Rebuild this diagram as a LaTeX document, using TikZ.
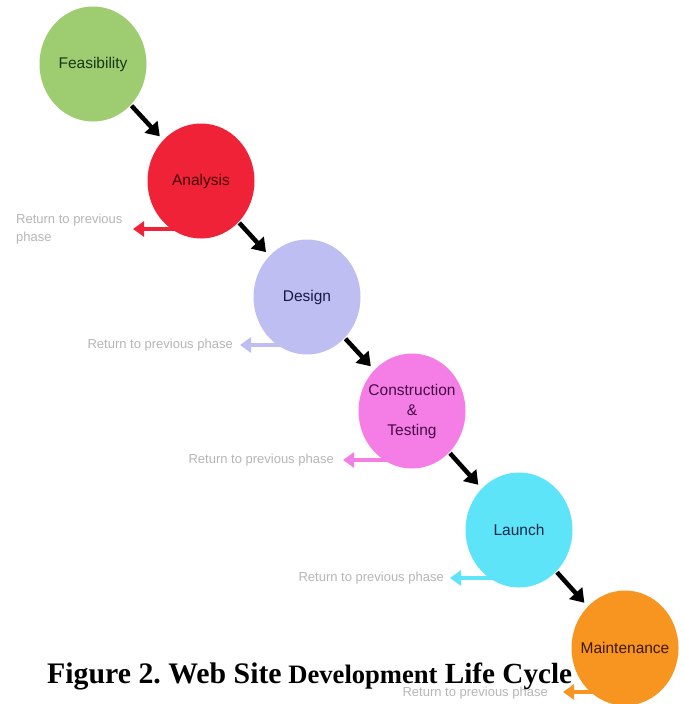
\documentclass[tikz,border=0pt]{standalone}
\usepackage{fontspec}
\setmainfont{Liberation Sans}
\newfontfamily\capfont{Liberation Serif}
\usetikzlibrary{shapes.geometric,arrows.meta}
\definecolor{cFeas}{RGB}{158,204,112}
\definecolor{cAnal}{RGB}{240,34,56}
\definecolor{cDes}{RGB}{190,190,242}
\definecolor{cCon}{RGB}{245,126,230}
\definecolor{cLau}{RGB}{94,228,248}
\definecolor{cMai}{RGB}{248,148,32}
\definecolor{tFeas}{RGB}{25,55,20}
\definecolor{tAnal}{RGB}{70,0,5}
\definecolor{tDes}{RGB}{25,25,70}
\definecolor{tCon}{RGB}{70,10,70}
\definecolor{tLau}{RGB}{10,40,70}
\definecolor{tMai}{RGB}{60,25,0}
\definecolor{retgray}{RGB}{182,182,182}
\tikzset{
  phase/.style={ellipse, inner xsep=-18pt, inner ysep=-12pt, minimum width=107pt, minimum height=115pt,
    font=\fontsize{15.5}{20}\selectfont, align=center},
  fwd/.style={draw=black, line width=4.5pt, -{Triangle[width=17pt,length=13pt]},
    shorten <=1pt, shorten >=5pt},
  back/.style={line width=4pt, -{Triangle[width=15pt,length=11pt]}},
  rettext/.style={text=retgray, font=\fontsize{13}{18}\selectfont, inner sep=0pt}
}
\begin{document}
\begin{tikzpicture}[x=1pt,y=-1pt]
\fill[white] (0,0) rectangle (684,704);
\useasboundingbox (0,0) rectangle (684,704);
\clip (0,0) rectangle (684,704);
% return arrow end points (drawn first, so the circles cover their start)
\coordinate (rA0) at (185,229); \coordinate (rA1) at (133,229);
\coordinate (rD0) at (290,345); \coordinate (rD1) at (240,345);
\coordinate (rC0) at (395,460); \coordinate (rC1) at (343,460);
\coordinate (rL0) at (502,578); \coordinate (rL1) at (450,578);
\coordinate (rM0) at (610,692); \coordinate (rM1) at (563,692);
\draw[back, draw=cAnal, fill=cAnal] (rA0) -- (rA1);
\draw[back, draw=cDes, fill=cDes] (rD0) -- (rD1);
\draw[back, draw=cCon, fill=cCon] (rC0) -- (rC1);
\draw[back, draw=cLau, fill=cLau] (rL0) -- (rL1);
\draw[back, draw=cMai, fill=cMai] (rM0) -- (rM1);
% phases
\node[phase, fill=cFeas, text=tFeas] (feas) at (93,64) {Feasibility};
\node[phase, fill=cAnal, text=tAnal] (anal) at (201,181) {Analysis};
\node[phase, fill=cDes, text=tDes] (des) at (307,297) {Design};
\node[phase, fill=cCon, text=tCon] (con) at (412,411) {Construction\\\&\\Testing};
\node[phase, fill=cLau, text=tLau] (lau) at (519,530) {Launch};
\node[phase, fill=cMai, text=tMai] (mai) at (625,648) {Maintenance};
% forward arrows
\draw[fwd] (feas) -- (anal);
\draw[fwd] (anal) -- (des);
\draw[fwd] (des) -- (con);
\draw[fwd] (con) -- (lau);
\draw[fwd] (lau) -- (mai);
% return texts
\node[rettext, anchor=west, align=left] (tA) at (16,229) {Return to previous\\phase};
\node[rettext, anchor=east] (tD) at (233,345) {Return to previous phase};
\node[rettext, anchor=east] (tC) at (334,460) {Return to previous phase};
\node[rettext, anchor=east] (tL) at (444,578) {Return to previous phase};
\node[rettext, anchor=east] (tM) at (548,693) {Return to previous phase};
% caption
\node[anchor=base west, inner sep=0pt, font=\capfont\bfseries] (cap) at (47,683)
  {\frenchspacing\fontsize{29.8}{30}\selectfont Figure 2. Web Site\fontsize{26.6}{27}\selectfont{} Development\fontsize{29.2}{30}\selectfont{} Life Cycle};
\end{tikzpicture}
\end{document}
